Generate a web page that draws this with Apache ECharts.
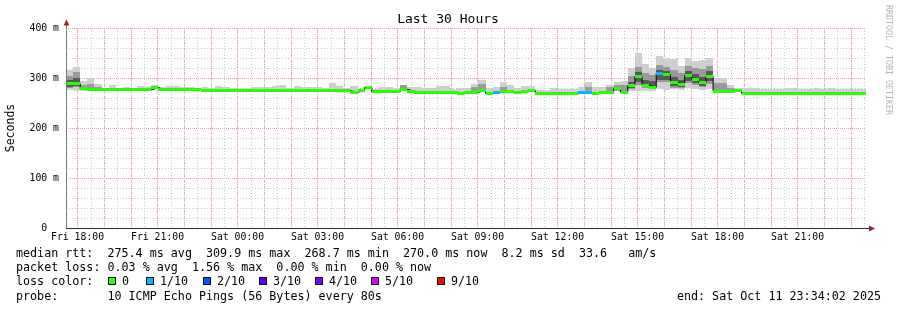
<!DOCTYPE html>
<html><head><meta charset="utf-8">
<script src="https://cdn.jsdelivr.net/npm/echarts@6/dist/echarts.min.js"></script>
<style>html,body{margin:0;padding:0;background:#fff}#c{width:897px;height:310px}</style>
</head><body><div id="c"></div>
<script>
// ---- data ----
const START = Date.UTC(2025, 9, 10, 17, 34, 2);
const END = Date.UTC(2025, 9, 11, 23, 34, 2);
const BIN_MINUTES = 16;

const median = [289.5,288.5,278.5,276.5,276.5,276.5,276.5,276.5,276.5,276.5,
276.5,276.5,280.5,276.5,276.5,276.5,276.5,276.5,276.5,274.5,
274.5,274.5,274.5,274.5,274.5,274.5,274.5,274.5,274.5,274.5,
274.5,274.5,274.5,274.5,274.5,274.5,274.5,274.5,274.5,274.5,
271.5,274.5,281.5,272.5,272.5,272.5,272.5,277.5,273.5,271.5,
271.5,271.5,271.5,271.5,271.5,269.5,271.5,271.5,274.5,269.5,
271.5,272.5,272.5,270.5,272.5,274.5,269.5,269.5,269.5,269.5,
269.5,269.5,270.5,270.5,269,270.5,271.5,278.5,271.5,284.5,
303.5,285.5,281.5,309.5,306.5,291.5,287.5,305.5,297.5,290.5,
303.5,273.5,273.5,272.5,274.5,269.5,269.5,269.5,269.5,269.5,
269.5,269.5,269.5,269.5,269.5,269.5,269.5,269.5,269.5,269.5,
269.5,269.5,270];

const high = [315.5,322.5,294.5,300.5,287.5,278.5,285.5,280.5,282.5,280.5,
284.5,282.5,285.5,282.5,284.5,284.5,282.5,282.5,280.5,282.5,
280.5,284.5,282.5,280.5,278.5,278.5,282.5,282.5,282.5,283.5,
286.5,280.5,284.5,282.5,282.5,282.5,280.5,289.5,283.5,280.5,
284.5,278.5,284.5,278.5,281.5,282.5,280.5,286.5,282.5,282.5,
280.5,280.5,284.5,284.5,277.5,280.5,280.5,287.5,296.5,279.5,
282.5,292.5,285.5,280.5,284.5,284.5,275.5,275.5,279.5,277.5,
278.5,278.5,282.5,292.5,282.5,282.5,286.5,292.5,294.5,319.5,
350.5,327.5,320.5,344.5,340.5,337.5,324.5,340.5,334.5,335.5,
340.5,300.5,300.5,285.5,280.5,280.5,279.5,278.5,278.5,278.5,
278.5,280.5,280.5,278.5,278.5,280.5,278.5,280.5,278.5,278.5,
278.5,278.5,277.5];

const low = [275.5,274.5,273.5,274.5,275.5,275.5,275.5,275.5,275.5,275.5,
275.5,275.5,278.5,275.5,275.5,275.5,275.5,275.5,275.5,273.5,
273.5,273.5,273.5,273.5,273.5,273.5,273.5,273.5,273.5,273.5,
273.5,273.5,273.5,273.5,273.5,273.5,273.5,273.5,273.5,273.5,
270.5,273.5,279.5,271.5,271.5,271.5,271.5,275.5,272.5,270.5,
270.5,270.5,270.5,270.5,270.5,268.5,270.5,270.5,272.5,268.5,
269.5,271.5,271.5,269.5,271.5,273.5,268.5,268.5,268.5,268.5,
268.5,268.5,269.5,269.5,268,269.5,269.5,273.5,269.5,273.5,
273.5,274.5,273.5,277.5,276.5,277.5,276.5,279.5,277.5,275.5,
277.5,270.5,270.5,270.5,272.5,268.5,268.5,268.5,268.5,268.5,
268.5,268.5,268.5,268.5,268.5,268.5,268.5,268.5,268.5,268.5,
268.5,268.5,269];

// inner (darker) smoke band
const innerLow = {0:280.5,1:281.5,2:275.5,3:276.5,4:276.5,47:276.5,57:271.5,58:273.5,61:272.5,73:271.5,
76:271.5,77:274.5,78:273.5,79:277.5,80:286.5,81:279.5,82:278.5,83:291.5,84:291.5,85:280.5,86:279.5,
87:289.5,88:285.5,89:281.5,90:288.5,91:273.5,92:273.5,93:272.5};
const innerHigh = {0:304.5,1:311.5,2:286.5,3:287.5,4:282.5,47:285.5,57:282.5,58:287.5,61:282.5,73:282.5,
76:281.5,77:286.5,78:286.5,79:303.5,80:321.5,81:309.5,82:306.5,83:326.5,84:321.5,85:316.5,86:309.5,
87:323.5,88:319.5,89:317.5,90:323.5,91:289.5,92:289.5,93:280.5};
// darkest core band
const coreLow = {0:282.5,1:283.5,79:279.5,80:292.5,81:281.5,82:279.5,83:296.5,84:296.5,85:283.5,86:281.5,
87:294.5,88:289.5,89:284.5,90:293.5};
const coreHigh = {0:296.5,1:300.5,79:292.5,80:312.5,81:296.5,82:293.5,83:316.5,84:314.5,85:301.5,86:296.5,
87:314.5,88:307.5,89:301.5,90:314.5};

// loss level index per bin (0 = no loss, 1 = 1/10)
const lossBins = {60:1, 72:1, 73:1, 83:1};

const lossLabels = ['0','1/10','2/10','3/10','4/10','5/10','9/10'];
const lossColors = ['#26ff00','#00b8ff','#0059ff','#5e00ff','#7e00ff','#dd00ff','#ff0000'];
const tickLabels = ['Fri 18:00','Fri 21:00','Sat 00:00','Sat 03:00','Sat 06:00','Sat 09:00','Sat 12:00','Sat 15:00','Sat 18:00','Sat 21:00'];

const statLines = [
  'median rtt:  275.4 ms avg  309.9 ms max  268.7 ms min  270.0 ms now  8.2 ms sd  33.6   am/s',
  'packet loss: 0.03 % avg  1.56 % max  0.00 % min  0.00 % now',
  'loss color:',
  'probe:       10 ICMP Echo Pings (56 Bytes) every 80s'
];
const endText = 'end: Sat Oct 11 23:34:02 2025';

// ---- build ----
const MONO = '"DejaVu Sans Mono", monospace';
const N = median.length;
const MIN = 60000;
const binStart = i => START + i * BIN_MINUTES * MIN;
const binEnd = i => (i === N - 1 ? END : START + (i + 1) * BIN_MINUTES * MIN);
const g = (o, i) => (o[i] === undefined ? '-' : o[i]);

const smokeData = median.map((m, i) => [binStart(i), binEnd(i), low[i], high[i], g(innerLow, i), g(innerHigh, i), g(coreLow, i), g(coreHigh, i)]);
const medData = median.map((m, i) => [binStart(i), binEnd(i), m, lossBins[i] || 0]);
const lineData = median.map((m, i) => [binStart(i), m]).concat([[END, median[N - 1]]]);

function band(api, t0, t1, a, b, fill) {
  if (isNaN(a) || isNaN(b) || a === b) return null;
  const p0 = api.coord([t0, Math.max(a, b)]);
  const p1 = api.coord([t1, Math.min(a, b)]);
  const x0 = Math.round(p0[0]), x1 = Math.round(p1[0]);
  const y0 = Math.round(p0[1]), y1 = Math.round(p1[1]);
  return { type: 'rect', shape: { x: x0, y: y0, width: x1 - x0, height: Math.max(1, y1 - y0) }, style: { fill } };
}

const days = ['Sun','Mon','Tue','Wed','Thu','Fri','Sat'];
function timeLabel(v) {
  const d = new Date(v);
  if (d.getUTCMinutes() !== 0 || d.getUTCSeconds() !== 0) return '';
  const s = days[d.getUTCDay()] + ' ' + String(d.getUTCHours()).padStart(2, '0') + ':00';
  return tickLabels.indexOf(s) >= 0 ? s : '';
}

const chart = echarts.init(document.getElementById('c'));
const graphics = [];
graphics.push({ type: 'text', style: { text: 'Last 30 Hours', x: 448, y: 20, font: '13px ' + MONO, fill: '#000', align: 'center', verticalAlign: 'middle', textAlign: 'center', textVerticalAlign: 'middle' } });
graphics.push({ type: 'text', rotation: -Math.PI / 2, x: 888, y: 60, style: { text: 'RRDTOOL / TOBI OETIKER', x: 0, y: 0, font: '8.3px ' + MONO, fill: '#b4b4b4', align: 'center', verticalAlign: 'middle', textAlign: 'center', textVerticalAlign: 'middle' } });
const lineY = [254, 268.3, 282.3, 296.7];
statLines.forEach((t, k) => graphics.push({ type: 'text', style: { text: t, x: 16, y: lineY[k], font: '11.7px ' + MONO, fill: '#000', verticalAlign: 'middle', textVerticalAlign: 'middle' } }));
graphics.push({ type: 'text', style: { text: endText, x: 881, y: lineY[3], font: '11.7px ' + MONO, fill: '#000', align: 'right', textAlign: 'right', verticalAlign: 'middle', textVerticalAlign: 'middle' } });
const sqX = [108, 146, 203, 259, 315, 371, 437];
lossLabels.forEach((lab, k) => {
  graphics.push({ type: 'rect', shape: { x: sqX[k] + 0.5, y: 277.5, width: 7, height: 7 }, style: { fill: lossColors[k], stroke: '#000', lineWidth: 1 } });
  graphics.push({ type: 'text', style: { text: lab, x: sqX[k] + 14, y: lineY[2], font: '11.7px ' + MONO, fill: '#000', verticalAlign: 'middle', textVerticalAlign: 'middle' } });
});
// axis lines & arrows
graphics.push({ type: 'line', shape: { x1: 66.5, y1: 228, x2: 66.5, y2: 24 }, style: { stroke: '#777', lineWidth: 1 }, z: 10 });
graphics.push({ type: 'line', shape: { x1: 66, y1: 228.5, x2: 870, y2: 228.5 }, style: { stroke: '#333', lineWidth: 1 }, z: 10 });
graphics.push({ type: 'polygon', shape: { points: [[66.5, 19.5], [63.5, 25.5], [69.5, 25.5]] }, style: { fill: '#9b2525' }, z: 11 });
graphics.push({ type: 'polygon', shape: { points: [[875, 228.5], [869, 225.5], [869, 231.5]] }, style: { fill: '#9b2525' }, z: 11 });

const option = {
  animation: false,
  useUTC: true,
  backgroundColor: '#fff',
  grid: { left: 66, right: 31, top: 28, bottom: 82, containLabel: false, outerBoundsMode: 'none' },
  xAxis: [
    {
      type: 'time', min: START, max: END, minInterval: 1860e3, maxInterval: 1860e3,
      axisLine: { show: false }, axisTick: { show: false }, axisLabel: { show: false },
      splitLine: { show: true, showMinLine: false, showMaxLine: false, lineStyle: { color: '#c8c8c8', type: [1, 2], width: 1 } }
    },
    {
      type: 'time', min: START, max: END, minInterval: 3600e3, maxInterval: 3600e3, position: 'bottom',
      axisLine: { show: false }, axisTick: { show: false },
      axisLabel: { formatter: timeLabel, fontFamily: MONO, fontSize: 9.8, color: '#000', margin: 4, hideOverlap: false, showMinLabel: false, showMaxLabel: false },
      splitLine: { show: true, showMinLine: false, showMaxLine: false, lineStyle: { color: '#f2a0a0', type: [1, 1], width: 1 } }
    }
  ],
  yAxis: {
    type: 'value', min: 0, max: 400, interval: 100,
    name: 'Seconds', nameLocation: 'middle', nameGap: 49,
    nameTextStyle: { fontFamily: MONO, fontSize: 11.5, color: '#000' },
    axisLine: { show: false }, axisTick: { show: false },
    axisLabel: { formatter: v => (v === 0 ? '0  ' : v + ' m'), fontFamily: MONO, fontSize: 9.8, color: '#000', margin: 7 },
    splitLine: { show: true, lineStyle: { color: '#f2a0a0', type: [1, 1] } },
    minorTick: { show: false, splitNumber: 5 },
    minorSplitLine: { show: true, lineStyle: { color: '#c8c8c8', type: [1, 2] } }
  },
  graphic: graphics,
  series: [
    {
      type: 'custom', name: 'smoke', xAxisIndex: 0, data: smokeData,
      encode: { x: [0, 1], y: [2, 3] }, z: 2,
      renderItem: (params, api) => {
        const t0 = api.value(0), t1 = api.value(1);
        return { type: 'group', children: [
          band(api, t0, t1, api.value(2), api.value(3), '#cfcfcf'),
          band(api, t0, t1, api.value(4), api.value(5), '#9a9a9a'),
          band(api, t0, t1, api.value(6), api.value(7), '#585858')
        ].filter(Boolean) };
      }
    },
    {
      type: 'line', name: 'median', xAxisIndex: 0, data: lineData, step: 'end', symbol: 'none', z: 3,
      lineStyle: { color: '#000', width: 1 }
    },
    {
      type: 'custom', name: 'loss', xAxisIndex: 0, data: medData,
      encode: { x: [0, 1], y: 2 }, z: 4,
      renderItem: (params, api) => {
        const t0 = api.value(0), t1 = api.value(1), m = api.value(2);
        const p0 = api.coord([t0, m]), p1 = api.coord([t1, m]);
        const x0 = Math.round(p0[0]), x1 = Math.round(p1[0]);
        const y = Math.round(p0[1] - 1.5);
        return { type: 'rect', shape: { x: x0, y: y, width: x1 - x0, height: 3 }, style: { fill: lossColors[api.value(3)] } };
      }
    }
  ]
};
chart.setOption(option);
</script></body></html>
